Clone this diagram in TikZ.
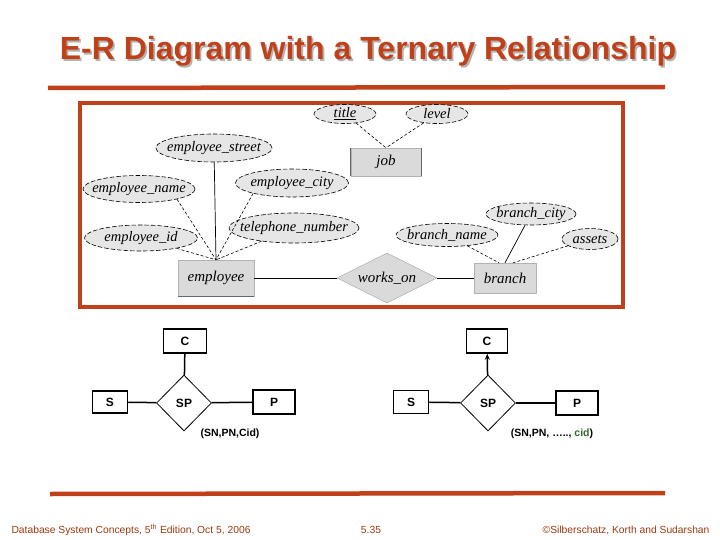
\documentclass[tikz,border=0pt]{standalone}
\usepackage{fontspec}
\setmainfont{Liberation Sans}
\newfontfamily\erfont{Liberation Serif}
\usetikzlibrary{shapes.geometric,arrows.meta}
\definecolor{rust}{HTML}{C0401A}
\definecolor{foot}{HTML}{9A3A10}
\definecolor{attrgray}{HTML}{E6E6E6}
\definecolor{entgray}{HTML}{DADADA}
\definecolor{cidgreen}{HTML}{2E6B2E}
\newcommand{\shadowtext}[1]{\rlap{\kern1.8pt\raisebox{-1.8pt}{\textcolor{gray!60}{#1}}}\textcolor{rust}{#1}}
\begin{document}
\begin{tikzpicture}[x=1pt,y=-1pt,
  attr/.style={ellipse, draw=black, dash pattern=on 4.5pt off 2pt, line width=0.6pt, fill=attrgray, inner ysep=0pt, inner xsep=-8pt,
    font=\erfont\itshape\fontsize{14.5}{14.5}\selectfont},
  ent/.style={rectangle, draw=gray!60, fill=entgray, inner sep=0pt, font=\erfont\itshape\fontsize{15}{15}\selectfont},
  rel/.style={diamond, draw=gray!70, fill=entgray, inner sep=0pt, aspect=2, font=\erfont\itshape\fontsize{15}{15}\selectfont},
  dline/.style={densely dashed, line width=0.6pt},
  sline/.style={line width=0.7pt},
  box/.style={rectangle, draw=black, line width=1.5pt, inner sep=0pt, font=\bfseries\fontsize{12}{12}\selectfont},
  sp/.style={diamond, draw=black, line width=0.8pt, aspect=1, inner sep=0pt, minimum width=55, minimum height=56, font=\bfseries\fontsize{12}{12}\selectfont},
  conn/.style={line width=1.5pt},
  lbl/.style={font=\bfseries\fontsize{10.5}{10.5}\selectfont},
  footer/.style={text=foot, font=\fontsize{10.3}{10.3}\selectfont}
]
\useasboundingbox (0,0) rectangle (720,540);
\fill[white] (0,0) rectangle (720,540);

% title
\node[font=\bfseries\fontsize{32}{32}\selectfont] (title) at (368,52) {\shadowtext{E-R Diagram with a Ternary Relationship}};

% rules
\draw[rust, line width=4.5pt] (48,88) -- (665,87);
\draw[rust, line width=4.5pt] (50,494) -- (665,493);

% frame
\draw[rust, line width=4pt] (80,103) rectangle (623,307);

% ER diagram
\node[ent, minimum width=70, minimum height=28] (job) at (386,162) {job};
\draw[line width=1pt, gray!80!black] (job.north west) -- (job.south west) (job.north east) -- (job.south east);
\node[attr, minimum width=62, minimum height=19] (ttl) at (345,114) {\underline{title}};
\node[attr, minimum width=62, minimum height=19] (lvl) at (437,114) {level};
\draw[dline] (ttl) -- (job.north);
\draw[dline] (lvl) -- (job.north);

\node[ent, minimum width=76, minimum height=36] (emp) at (216,278) {employee};
\draw[line width=1pt, gray!80!black] (emp.south west) -- (emp.south east);
\node[attr, minimum width=116, minimum height=28] (estreet) at (214,148) {employee\_street};
\node[attr, minimum width=112, minimum height=27] (ename) at (139,189) {employee\_name};
\node[attr, minimum width=113, minimum height=28] (ecity) at (292,183) {employee\_city};
\node[attr, minimum width=113, minimum height=26] (eid) at (141,238) {employee\_id};
\node[attr, minimum width=130, minimum height=30] (tel) at (294,228) {telephone\_number};
\draw[sline] (estreet) -- (emp.north);
\draw[dline] (ename.345) -- (emp.north);
\draw[dline] (ecity.195) -- (emp.north);
\draw[dline] (eid) -- (emp.north);
\draw[dline] (tel) -- (emp.north);

\node[rel, minimum width=100, minimum height=50] (works) at (387,278) {works\_on};
\node[ent, minimum width=62, minimum height=30] (branch) at (505,278) {branch};
\node[attr, minimum width=102, minimum height=23] (bname) at (447,235) {branch\_name};
\node[attr, minimum width=90, minimum height=22] (bcity) at (531,214) {branch\_city};
\node[attr, minimum width=56, minimum height=21] (assets) at (590,239) {assets};
\draw[sline] (emp) -- (works);
\draw[sline] (works) -- (branch);
\draw[dline] (bname) -- ([xshift=-6pt]branch.north);
\draw[sline] (bcity) -- (branch.north);
\draw[dline] (assets) -- ([xshift=8pt]branch.north);

% left ternary
\node[box, minimum width=43, minimum height=24] (c1) at (185,341) {C};
\node[box, minimum width=35, minimum height=22] (s1) at (110,402) {S};
\node[sp] (sp1) at (184,403) {SP};
\node[box, minimum width=42, minimum height=24] (p1) at (274,402) {P};
\draw[conn] (c1) -- (sp1);
\draw[conn] (s1) -- (sp1);
\draw[conn] (sp1) -- (p1);
\node[lbl] (l1) at (230,434) {(SN,PN,Cid)};

% right ternary
\node[box, minimum width=41, minimum height=24] (c2) at (487,341) {C};
\node[box, minimum width=35, minimum height=23] (s2) at (411,402) {S};
\node[sp] (sp2) at (488,403) {SP};
\node[box, minimum width=42, minimum height=24] (p2) at (577,403) {P};
\draw[conn, -{Stealth[length=6pt,width=5pt]}] (sp2) -- (c2);
\draw[conn] (s2) -- (sp2);
\draw[conn] (sp2) -- (p2);
\node[lbl] (l2) at (552,434) {(SN,PN, \dots.., \textcolor{cidgreen}{cid})};

% footer
\node[footer, anchor=west] (f1) at (8,530) {Database System Concepts, 5\textsuperscript{th} Edition, Oct 5, 2006};
\node[footer] (f2) at (371,530) {5.35};
\node[footer, anchor=east] (f3) at (713,530) {©Silberschatz, Korth and Sudarshan};
\end{tikzpicture}
\end{document}
